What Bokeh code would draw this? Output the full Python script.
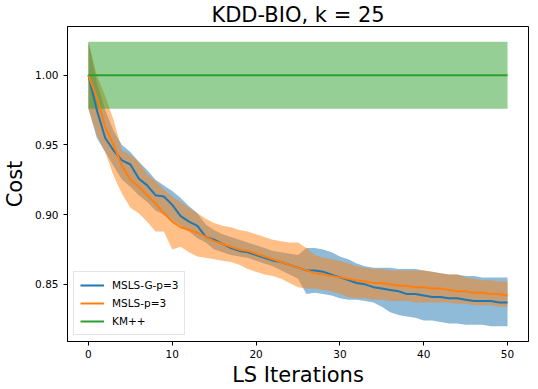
from bokeh.plotting import figure
from bokeh.models import Range1d, FixedTicker, PrintfTickFormatter, Legend, LegendItem
from bokeh.embed import file_html
from bokeh.resources import INLINE

iterations = list(range(51))

msls_g_mean = [1.000, 0.975, 0.955, 0.946, 0.939, 0.936, 0.926, 0.921, 0.914, 0.913,
               0.907, 0.899, 0.895, 0.892, 0.884, 0.882, 0.879, 0.876, 0.874, 0.873,
               0.871, 0.869, 0.867, 0.866, 0.864, 0.862, 0.860, 0.860, 0.859, 0.857,
               0.855, 0.853, 0.851, 0.850, 0.848, 0.847, 0.846, 0.845, 0.843, 0.843,
               0.842, 0.841, 0.841, 0.840, 0.840, 0.839, 0.838, 0.838, 0.838, 0.837, 0.837]
msls_g_hi = [1.024, 0.995, 0.975, 0.960, 0.950, 0.945, 0.938, 0.932, 0.925, 0.921,
             0.917, 0.912, 0.906, 0.901, 0.893, 0.889, 0.886, 0.884, 0.882, 0.880,
             0.878, 0.876, 0.874, 0.873, 0.872, 0.871, 0.876, 0.876, 0.875, 0.873,
             0.870, 0.868, 0.865, 0.863, 0.862, 0.862, 0.862, 0.861, 0.861, 0.861,
             0.860, 0.859, 0.858, 0.857, 0.857, 0.856, 0.856, 0.855, 0.855, 0.855, 0.855]
msls_g_lo = [0.976, 0.955, 0.945, 0.935, 0.925, 0.920, 0.914, 0.909, 0.903, 0.900,
             0.896, 0.892, 0.888, 0.883, 0.880, 0.875, 0.873, 0.871, 0.870, 0.869,
             0.867, 0.865, 0.863, 0.860, 0.857, 0.854, 0.843, 0.844, 0.843, 0.842,
             0.840, 0.839, 0.839, 0.838, 0.837, 0.834, 0.830, 0.828, 0.827, 0.826,
             0.824, 0.824, 0.823, 0.822, 0.822, 0.821, 0.821, 0.821, 0.820, 0.820, 0.820]

msls_mean = [1.000, 0.984, 0.963, 0.950, 0.935, 0.925, 0.920, 0.914, 0.908, 0.901,
             0.895, 0.891, 0.889, 0.887, 0.884, 0.881, 0.879, 0.877, 0.875, 0.874,
             0.872, 0.870, 0.868, 0.866, 0.864, 0.862, 0.860, 0.858, 0.857, 0.856,
             0.855, 0.854, 0.853, 0.852, 0.851, 0.851, 0.850, 0.849, 0.849, 0.848,
             0.848, 0.847, 0.847, 0.846, 0.845, 0.845, 0.844, 0.844, 0.843, 0.843, 0.842]
msls_hi = [1.024, 1.000, 0.985, 0.968, 0.946, 0.943, 0.938, 0.929, 0.924, 0.918,
           0.913, 0.909, 0.905, 0.901, 0.897, 0.894, 0.892, 0.891, 0.889, 0.888,
           0.886, 0.884, 0.882, 0.881, 0.880, 0.880, 0.876, 0.871, 0.869, 0.868,
           0.867, 0.865, 0.863, 0.862, 0.861, 0.861, 0.860, 0.860, 0.860, 0.860,
           0.860, 0.859, 0.858, 0.857, 0.857, 0.855, 0.854, 0.853, 0.853, 0.852, 0.852]
msls_lo = [0.976, 0.957, 0.945, 0.928, 0.915, 0.905, 0.901, 0.895, 0.888, 0.888,
           0.875, 0.877, 0.873, 0.870, 0.869, 0.868, 0.867, 0.866, 0.864, 0.861,
           0.859, 0.857, 0.856, 0.854, 0.851, 0.848, 0.847, 0.847, 0.846, 0.845,
           0.843, 0.841, 0.840, 0.840, 0.839, 0.839, 0.838, 0.838, 0.838, 0.837,
           0.837, 0.837, 0.837, 0.837, 0.836, 0.836, 0.835, 0.835, 0.835, 0.834, 0.834]

km_mean = 1.0
km_lo = 0.976
km_hi = 1.024

x_ticks = [0, 10, 20, 30, 40, 50]
y_ticks = [0.85, 0.90, 0.95, 1.00]

BLUE = "#1f77b4"
ORANGE = "#ff7f0e"
GREEN = "#2ca02c"
FONT = "DejaVu Sans"

p = figure(width=538, height=389, output_backend="svg", toolbar_location=None,
           title="KDD-BIO, k = 25",
           x_range=Range1d(-2.5, 52.5), y_range=Range1d(0.809, 1.035),
           min_border_left=65, min_border_right=10, min_border_top=0, min_border_bottom=48)

p.title.text_font = FONT
p.title.text_font_size = "21px"
p.title.text_font_style = "normal"
p.title.align = "center"
p.title.text_color = "black"
p.title.text_line_height = 0.8
p.title.standoff = 0
p.title.offset = 0

p.xgrid.visible = False
p.ygrid.visible = False
p.outline_line_color = "black"
p.outline_line_width = 1
p.outline_line_alpha = 1.0

for ax in (p.xaxis[0], p.yaxis[0]):
    ax.major_label_text_font = FONT
    ax.major_label_text_font_size = "10.5px"
    ax.major_label_text_color = "black"
    ax.axis_label_text_font = FONT
    ax.axis_label_text_font_size = "21px"
    ax.axis_label_text_font_style = "normal"
    ax.axis_label_text_color = "black"
    ax.major_tick_in = 0
    ax.major_tick_out = 4
    ax.minor_tick_in = 0
    ax.minor_tick_out = 0
    ax.axis_line_color = "black"
    ax.major_tick_line_color = "black"

p.xaxis.axis_label = "LS Iterations"
p.yaxis.axis_label = "Cost"
p.xaxis.major_label_standoff = 4
p.yaxis.major_label_standoff = 5
p.xaxis.axis_label_standoff = 2
p.yaxis.axis_label_standoff = 5
p.xaxis.ticker = FixedTicker(ticks=x_ticks)
p.yaxis.ticker = FixedTicker(ticks=y_ticks)
p.yaxis.formatter = PrintfTickFormatter(format="%.2f")

# bands first (below all lines)
p.varea(x=iterations, y1=msls_g_lo, y2=msls_g_hi, fill_color=BLUE, fill_alpha=0.5)
p.varea(x=iterations, y1=msls_lo, y2=msls_hi, fill_color=ORANGE, fill_alpha=0.5)
km_x = [iterations[0], iterations[-1]]
p.varea(x=km_x, y1=[km_lo, km_lo], y2=[km_hi, km_hi], fill_color=GREEN, fill_alpha=0.5)

l1 = p.line(iterations, msls_g_mean, line_color=BLUE, line_width=2)
l2 = p.line(iterations, msls_mean, line_color=ORANGE, line_width=2)
l3 = p.line(km_x, [km_mean, km_mean], line_color=GREEN, line_width=2)

legend = Legend(items=[LegendItem(label="MSLS-G-p=3", renderers=[l1]),
                       LegendItem(label="MSLS-p=3", renderers=[l2]),
                       LegendItem(label="KM++", renderers=[l3])],
                location="bottom_left")
legend.label_text_font = FONT
legend.label_text_font_size = "10.5px"
legend.label_text_color = "black"
legend.border_line_color = "#cccccc"
legend.background_fill_alpha = 0.8
legend.margin = 6
legend.padding = 6
legend.spacing = 4
legend.glyph_width = 24
legend.glyph_height = 14
legend.label_height = 14
legend.label_standoff = 8
p.add_layout(legend, "center")

open("out.html", "w").write(file_html(p, INLINE))
